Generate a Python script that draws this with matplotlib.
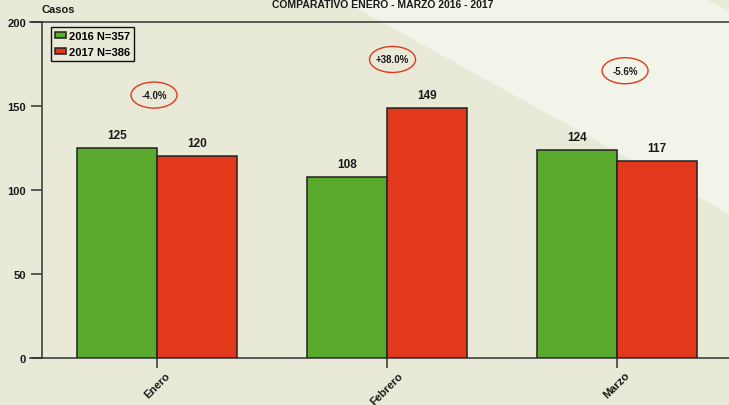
import matplotlib.pyplot as plt
import numpy as np
from matplotlib.patches import Ellipse, Polygon

plt.rcParams['font.family'] = ['Liberation Sans', 'DejaVu Sans']
plt.rcParams['font.weight'] = 'bold'

# data
months = ["Enero", "Febrero", "Marzo"]
casos_2016 = [125, 108, 124]
casos_2017 = [120, 149, 117]
variacion = ["-4.0%", "+38.0%", "-5.6%"]
leyenda = ["2016 N=357", "2017 N=386"]

# where the % ellipses sit (layout only)
ell_dx = [-0.013, 0.024, 0.035]
ell_y = [156.5, 177.7, 171.0]

bg = '#e8e9d6'
band = '#f3f4e9'
green = '#5aab2d'
red = '#e2381c'
dark = '#222222'

fig = plt.figure(figsize=(7.29, 4.06), dpi=100, facecolor=bg)

# lighter diagonal band in the background
W, H = 729, 406
pts = [(340, 0), (705, 0), (729, 12), (729, 215)]
fig.patches.append(Polygon([(x / W, 1 - y / H) for x, y in pts], closed=True,
                           transform=fig.transFigure, facecolor=band,
                           edgecolor='none', zorder=0))

ax = fig.add_axes([42 / W, 1 - 359 / H, 690 / W, 336 / H])
ax.set_facecolor('none')
ax.set_zorder(2)

x = np.arange(len(months))
bw = 0.348
b1 = ax.bar(x - bw / 2, casos_2016, bw, color=green, edgecolor=dark, linewidth=1.1,
            label=leyenda[0], zorder=3)
b2 = ax.bar(x + bw / 2, casos_2017, bw, color=red, edgecolor=dark, linewidth=1.1,
            label=leyenda[1], zorder=3)

for bars in (b1, b2):
    for r in bars:
        ax.annotate(f"{int(r.get_height())}", (r.get_x() + r.get_width() / 2, r.get_height()),
                    xytext=(0, 5), textcoords='offset points', ha='center', va='bottom',
                    fontsize=8.5, fontweight='bold', color='#1a1a1a')

for i, txt in enumerate(variacion):
    cx = x[i] + ell_dx[i]
    ax.add_patch(Ellipse((cx, ell_y[i]), 0.2, 15.5, facecolor='none',
                         edgecolor='#e0391f', linewidth=1.0, zorder=4))
    ax.text(cx, ell_y[i], txt, ha='center', va='center', fontsize=7,
            fontweight='bold', color='#1a1a1a', zorder=5)

ax.set_xlim(-0.5, 2.5)
ax.set_ylim(0, 200)
ax.set_yticks([0, 50, 100, 150, 200])
ax.set_xticks(x)
ax.set_xticklabels(months, rotation=45, ha='center', fontsize=8, fontweight='bold')
for lbl in ax.get_yticklabels():
    lbl.set_fontweight('bold')
ax.tick_params(axis='y', direction='out', length=8, width=1.1, pad=3.5,
               labelsize=8, colors='#333333', labelcolor='#1a1a1a')
ax.tick_params(axis='x', direction='out', length=7, width=1.1, pad=1.5,
               colors='#333333', labelcolor='#1a1a1a')

for s in ['left', 'top', 'bottom']:
    ax.spines[s].set_color('#333333')
    ax.spines[s].set_linewidth(1.1)
ax.spines['right'].set_visible(False)
ax.spines['top'].set_bounds(-0.55, 2.5)
ax.spines['bottom'].set_bounds(-0.55, 2.5)

leg = ax.legend(loc='upper left', bbox_to_anchor=(0.013, 0.985), borderaxespad=0,
                fancybox=False, edgecolor='#111111', facecolor='none', framealpha=1,
                prop={'size': 8, 'weight': 'bold'}, handlelength=1.0, handleheight=0.45,
                handletextpad=0.3, labelspacing=0.55, borderpad=0.35)
leg.get_frame().set_linewidth(1.0)

fig.text(42 / W, 1 - 10 / H, "Casos", ha='left', va='center', fontsize=8, fontweight='bold',
         color='#1a1a1a')
fig.text(383 / W, 1 - 7.5 / H, "COMPARATIVO ENERO - MARZO 2016 - 2017", ha='center',
         va='baseline', fontsize=7.5, fontweight='bold', color='#1a1a1a')

fig.savefig('out.png', dpi=100, facecolor=bg)
